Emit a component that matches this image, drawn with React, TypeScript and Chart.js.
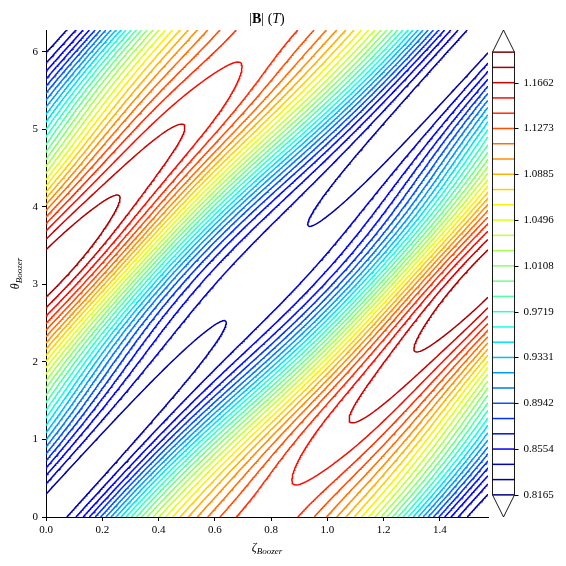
import { useEffect, useRef } from "react";
import { Chart, registerables } from "chart.js";
Chart.register(...registerables);

// ---- data ----
const NFP = 4;
// Boozer spectrum of |B| : B = sum B_mn cos(m*theta - n*NFP*zeta)
const MODE_M = [0, 1, 1, 2, 0, 3, 1, 4, 2, 3, 4, 2];
const MODE_N = [0, 1, 0, 1, 1, 2, 2, 3, 3, 0, 1, -1];
const MODE_B = [
  0.9974, -0.1737, 0.010946, 0.005196, 0.005196, -0.011925, -0.011925,
  -0.002244, -0.002244, -0.00095, 0.000475, 0.000475,
];

const LEVELS = [
  0.8165, 0.82945, 0.8424, 0.85536, 0.86831, 0.88126, 0.89421, 0.90716, 0.92012, 0.93307,
  0.94602, 0.95897, 0.97192, 0.98488, 0.99783, 1.01078, 1.02373, 1.03668, 1.04964, 1.06259,
  1.07554, 1.08849, 1.10144, 1.1144, 1.12735, 1.1403, 1.15325, 1.1662, 1.17916, 1.19211,
];
const CB_TICKS = [0.8165, 0.85536, 0.89421, 0.93307, 0.97192, 1.01078, 1.04964, 1.08849, 1.12735, 1.1662];
const CB_TICK_LABELS = ["0.8165", "0.8554", "0.8942", "0.9331", "0.9719", "1.0108", "1.0496", "1.0885", "1.1273", "1.1662"];
const CB_EXTEND = 0.05;

const ZETA_MAX = Math.PI / 2;
const THETA_MAX = 2 * Math.PI;
const X_TICK_STEP = 0.2;
const Y_TICK_STEP = 1;

// sampling grid of the surface (zeta x theta)
const NX = 241;
const NY = 481;

const TICK_FONT = "Liberation Serif";

function jet(t: number): string {
  const seg = (pts: number[][], x: number) => {
    for (let i = 1; i < pts.length; i++) {
      if (x <= pts[i][0]) {
        const [x0, y0] = pts[i - 1];
        const [x1, y1] = pts[i];
        return y0 + ((y1 - y0) * (x - x0)) / (x1 - x0);
      }
    }
    return pts[pts.length - 1][1];
  };
  const r = seg([[0, 0], [0.35, 0], [0.66, 1], [0.89, 1], [1, 0.5]], t);
  const g = seg([[0, 0], [0.125, 0], [0.375, 1], [0.64, 1], [0.91, 0], [1, 0]], t);
  const b = seg([[0, 0.5], [0.11, 1], [0.34, 1], [0.65, 0], [1, 0]], t);
  return `rgb(${Math.round(r * 255)},${Math.round(g * 255)},${Math.round(b * 255)})`;
}

function fieldAt(z: number, th: number): number {
  let v = 0;
  for (let k = 0; k < MODE_B.length; k++) v += MODE_B[k] * Math.cos(MODE_M[k] * th - MODE_N[k] * NFP * z);
  return v;
}

type P = { x: number; y: number };

function contour(F: Float64Array, xs: number[], ys: number[], lev: number): P[][] {
  const nx = xs.length, ny = ys.length;
  const adj = new Map<number, number[]>();
  const link = (a: number, b: number) => {
    let la = adj.get(a); if (!la) { la = []; adj.set(a, la); } la.push(b);
    let lb = adj.get(b); if (!lb) { lb = []; adj.set(b, lb); } lb.push(a);
  };
  const hId = (i: number, j: number) => (j * nx + i) * 2;
  const vId = (i: number, j: number) => (j * nx + i) * 2 + 1;
  for (let j = 0; j < ny - 1; j++) {
    for (let i = 0; i < nx - 1; i++) {
      const v0 = F[j * nx + i] - lev;
      const v1 = F[j * nx + i + 1] - lev;
      const v2 = F[(j + 1) * nx + i + 1] - lev;
      const v3 = F[(j + 1) * nx + i] - lev;
      const code = (v0 > 0 ? 1 : 0) | (v1 > 0 ? 2 : 0) | (v2 > 0 ? 4 : 0) | (v3 > 0 ? 8 : 0);
      if (code === 0 || code === 15) continue;
      const B = hId(i, j), R = vId(i + 1, j), T = hId(i, j + 1), L = vId(i, j);
      switch (code) {
        case 1: case 14: link(L, B); break;
        case 2: case 13: link(B, R); break;
        case 3: case 12: link(L, R); break;
        case 4: case 11: link(R, T); break;
        case 6: case 9: link(B, T); break;
        case 7: case 8: link(L, T); break;
        case 5: {
          const c = (v0 + v1 + v2 + v3) / 4;
          if (c > 0) { link(B, R); link(L, T); } else { link(L, B); link(R, T); }
          break;
        }
        case 10: {
          const c = (v0 + v1 + v2 + v3) / 4;
          if (c > 0) { link(L, B); link(R, T); } else { link(B, R); link(L, T); }
          break;
        }
      }
    }
  }
  const pt = (id: number): P => {
    const isV = id & 1;
    const cell = id >> 1;
    const i = cell % nx, j = Math.floor(cell / nx);
    const a = F[j * nx + i];
    if (!isV) {
      const b = F[j * nx + i + 1];
      const t = (lev - a) / (b - a);
      return { x: xs[i] + t * (xs[i + 1] - xs[i]), y: ys[j] };
    }
    const b = F[(j + 1) * nx + i];
    const t = (lev - a) / (b - a);
    return { x: xs[i], y: ys[j] + t * (ys[j + 1] - ys[j]) };
  };
  const visited = new Set<number>();
  const lines: P[][] = [];
  const walk = (start: number) => {
    const ids = [start];
    visited.add(start);
    let prev = -1, cur = start;
    for (;;) {
      const nb = adj.get(cur)!;
      let next = -1;
      for (const n of nb) if (n !== prev && !visited.has(n)) { next = n; break; }
      if (next === -1) {
        if (ids.length > 2 && nb.includes(start)) ids.push(start);
        break;
      }
      visited.add(next); ids.push(next); prev = cur; cur = next;
    }
    lines.push(ids.map(pt));
  };
  for (const [id, nb] of adj) if (nb.length === 1 && !visited.has(id)) walk(id);
  for (const [id] of adj) if (!visited.has(id)) walk(id);
  return lines;
}

function buildDatasets() {
  const xs: number[] = [], ys: number[] = [];
  for (let i = 0; i < NX; i++) xs.push((ZETA_MAX * i) / (NX - 1));
  for (let j = 0; j < NY; j++) ys.push((THETA_MAX * j) / (NY - 1));
  const F = new Float64Array(NX * NY);
  for (let j = 0; j < NY; j++) for (let i = 0; i < NX; i++) F[j * NX + i] = fieldAt(xs[i], ys[j]);
  const n = LEVELS.length;
  return LEVELS.map((lev, k) => {
    const lines = contour(F, xs, ys, lev);
    const data: P[] = [];
    for (const ln of lines) {
      for (const p of ln) data.push(p);
      data.push({ x: NaN, y: NaN });
    }
    return {
      label: String(lev),
      data,
      showLine: true,
      spanGaps: false,
      borderColor: jet(k / (n - 1)),
      borderWidth: 1.5,
      pointRadius: 0,
      pointHoverRadius: 0,
      fill: false,
      tension: 0,
    };
  });
}

type Part = { text: string; font: string; dy?: number };
function drawParts(ctx: CanvasRenderingContext2D, parts: Part[], x: number, y: number) {
  let total = 0;
  const ws = parts.map((p) => { ctx.font = p.font; const w = ctx.measureText(p.text).width; total += w; return w; });
  let cx = x - total / 2;
  parts.forEach((p, i) => { ctx.font = p.font; ctx.fillText(p.text, cx, y + (p.dy || 0)); cx += ws[i]; });
}

const decor = {
  id: "decor",
  afterDraw(chart: any) {
    const ctx: CanvasRenderingContext2D = chart.ctx;
    const area = chart.chartArea;
    const cb = chart.scales.cb;
    ctx.save();
    ctx.fillStyle = "#000";
    ctx.textAlign = "left";
    ctx.textBaseline = "alphabetic";
    const cx = (area.left + area.right) / 2;
    drawParts(ctx, [
      { text: "|", font: `14px ${TICK_FONT}` },
      { text: "B", font: `bold 14px ${TICK_FONT}` },
      { text: "|", font: `14px ${TICK_FONT}` },
      { text: " (", font: `14px ${TICK_FONT}` },
      { text: "T", font: `italic 14px ${TICK_FONT}` },
      { text: ")", font: `14px ${TICK_FONT}` },
    ], cx, 23);
    drawParts(ctx, [
      { text: "ζ", font: `italic 12px ${TICK_FONT}` },
      { text: "Boozer", font: `italic 9px ${TICK_FONT}`, dy: 3 },
    ], cx, 551);
    ctx.save();
    ctx.translate(16, (area.top + area.bottom) / 2);
    ctx.rotate(-Math.PI / 2);
    drawParts(ctx, [
      { text: "θ", font: `italic 12px ${TICK_FONT}` },
      { text: "Boozer", font: `italic 9px ${TICK_FONT}`, dy: 3 },
    ], 0, 3);
    ctx.restore();

    const x0 = area.right + 4.5, x1 = x0 + 22, xm = (x0 + x1) / 2;
    const yTop = cb.getPixelForValue(LEVELS[LEVELS.length - 1]);
    const yBot = cb.getPixelForValue(LEVELS[0]);
    const apexTop = cb.getPixelForValue(cb.max);
    const apexBot = cb.getPixelForValue(cb.min);
    const n = LEVELS.length;
    ctx.lineWidth = 1.5;
    LEVELS.forEach((lev, k) => {
      const y = cb.getPixelForValue(lev);
      ctx.strokeStyle = jet(k / (n - 1));
      ctx.beginPath(); ctx.moveTo(x0, y); ctx.lineTo(x1, y); ctx.stroke();
    });
    ctx.strokeStyle = "#000";
    ctx.lineWidth = 0.9;
    ctx.beginPath();
    ctx.moveTo(x0, yBot); ctx.lineTo(x0, yTop); ctx.lineTo(xm, apexTop); ctx.lineTo(x1, yTop);
    ctx.lineTo(x1, yBot); ctx.lineTo(xm, apexBot); ctx.closePath();
    ctx.stroke();
    ctx.lineWidth = 1;
    ctx.font = `11px ${TICK_FONT}`;
    ctx.textBaseline = "middle";
    CB_TICKS.forEach((v, i) => {
      const y = Math.round(cb.getPixelForValue(v)) + 0.5;
      ctx.beginPath(); ctx.moveTo(x1, y); ctx.lineTo(x1 + 4, y); ctx.stroke();
      ctx.fillText(CB_TICK_LABELS[i], x1 + 9, y);
    });
    ctx.restore();
  },
};

export default function App() {
  const ref = useRef<HTMLCanvasElement | null>(null);
  useEffect(() => {
    if (!ref.current) return;
    const range = LEVELS[LEVELS.length - 1] - LEVELS[0];
    const axisCommon = {
      type: "linear" as const,
      grid: { display: true, drawOnChartArea: false, drawTicks: true, tickLength: 4, color: "#000", lineWidth: 1 },
      border: { display: true, color: "#000", width: 1 },
    };
    const chart = new Chart(ref.current, {
      type: "scatter",
      data: { datasets: buildDatasets() as any },
      options: {
        animation: false,
        responsive: false,
        events: [],
        layout: { padding: { top: 30, right: 78, left: 0, bottom: 0 } },
        plugins: { legend: { display: false }, tooltip: { enabled: false }, title: { display: false } },
        scales: {
          x: {
            ...axisCommon,
            min: 0,
            max: ZETA_MAX,
            ticks: {
              stepSize: X_TICK_STEP, includeBounds: false, autoSkip: false, maxRotation: 0, padding: 3,
              color: "#000", font: { family: TICK_FONT, size: 11 },
              callback: (v: any) => Number(v).toFixed(1),
            },
            afterFit: (s: any) => { s.height = 49; },
          },
          y: {
            ...axisCommon,
            min: 0,
            max: THETA_MAX,
            ticks: {
              stepSize: Y_TICK_STEP, includeBounds: false, autoSkip: false, padding: 4,
              color: "#000", font: { family: TICK_FONT, size: 11 },
              callback: (v: any) => String(Math.round(Number(v))),
            },
            afterFit: (s: any) => { s.width = 46; },
          },
          cb: {
            type: "linear",
            axis: "y",
            position: "right",
            display: false,
            min: LEVELS[0] - CB_EXTEND * range,
            max: LEVELS[LEVELS.length - 1] + CB_EXTEND * range,
          },
        } as any,
      },
      plugins: [decor],
    });
    return () => chart.destroy();
  }, []);
  return (
    <div style={{ position: "fixed", left: 0, top: 0, width: 566, height: 566, background: "#fff" }}>
      <canvas ref={ref} width={566} height={566} style={{ display: "block" }} />
    </div>
  );
}
